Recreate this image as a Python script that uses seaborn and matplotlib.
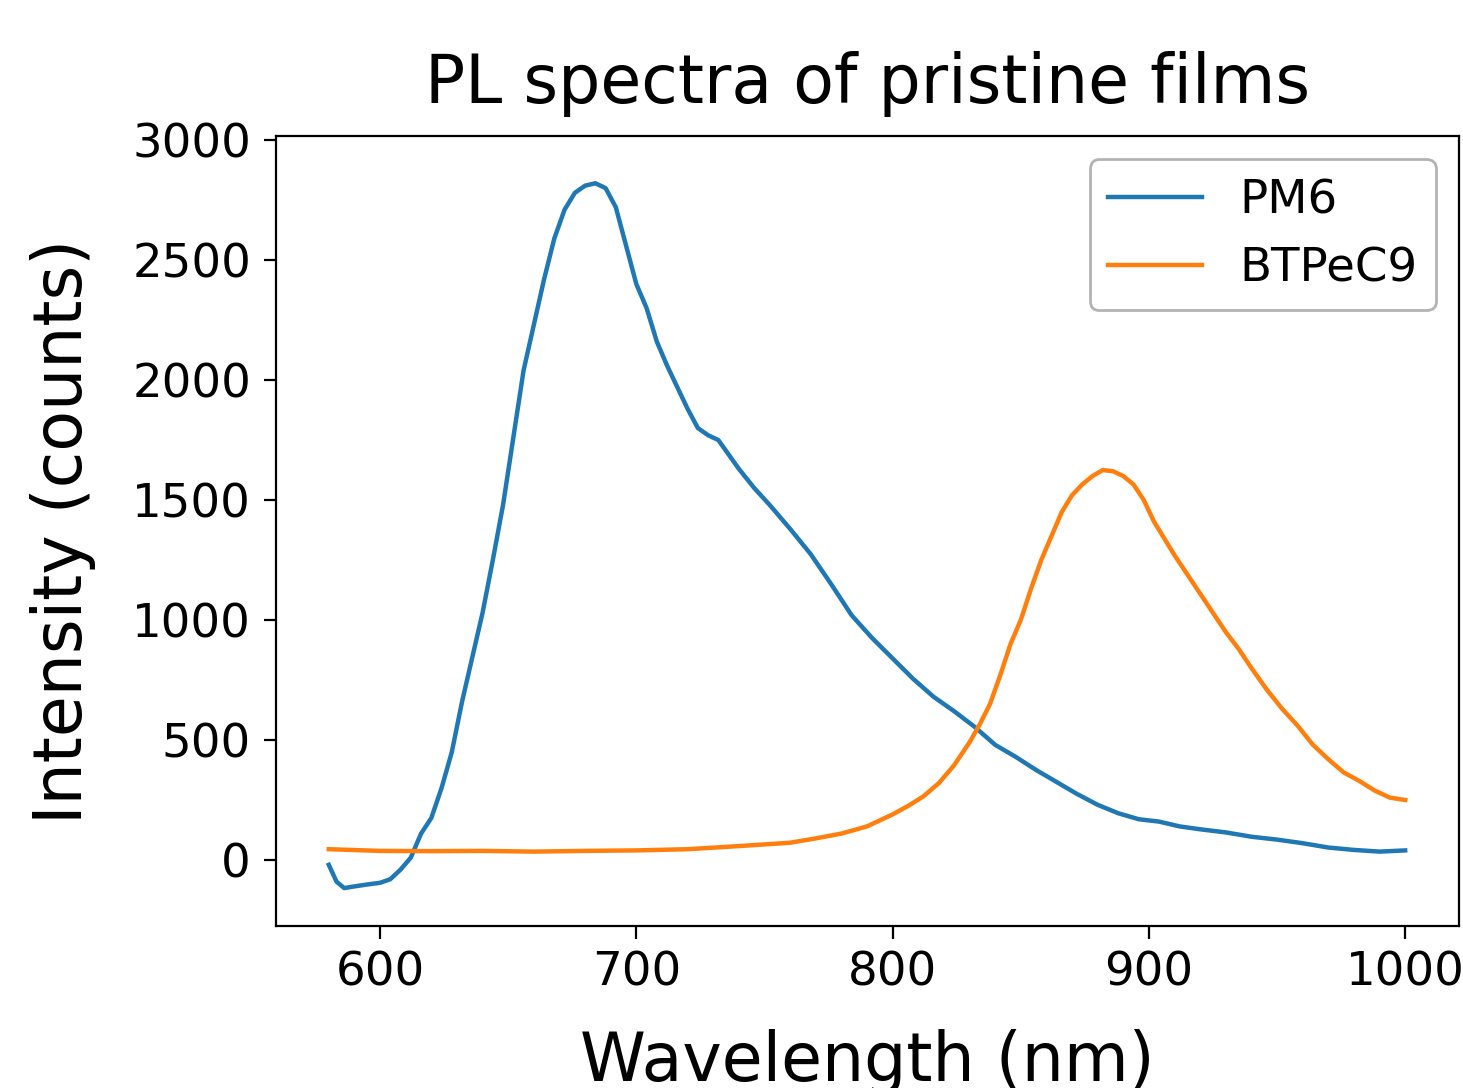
import matplotlib
matplotlib.use("Agg")
import matplotlib.pyplot as plt
import seaborn as sns
import pandas as pd

# PL spectra (wavelength in nm, intensity in counts)
pm6_nm = [580, 583, 586, 590, 595, 600, 604, 608, 612, 616, 620, 624, 628, 632,
          636, 640, 644, 648, 652, 656, 660, 664, 668, 672, 676, 680, 684, 688,
          692, 696, 700, 704, 708, 712, 716, 720, 724, 728, 732, 736, 740, 746,
          752, 760, 768, 776, 784, 792, 800, 808, 816, 824, 832, 840, 848, 856,
          864, 872, 880, 888, 896, 904, 912, 920, 930, 940, 950, 960, 970, 980,
          990, 1000]
pm6_counts = [-20, -90, -117, -110, -102, -95, -80, -40, 10, 110, 175, 300, 450, 660,
              845, 1030, 1250, 1480, 1760, 2040, 2230, 2420, 2590, 2710, 2780, 2810, 2820, 2800,
              2720, 2560, 2400, 2300, 2160, 2060, 1970, 1880, 1800, 1770, 1750, 1690, 1630, 1550,
              1480, 1380, 1275, 1150, 1020, 925, 840, 755, 680, 620, 555, 480, 430, 375,
              325, 275, 230, 195, 170, 160, 140, 128, 115, 97, 85, 70, 52, 42,
              35, 40]

btp_nm = [580, 600, 620, 640, 660, 680, 700, 720, 740, 760, 770, 780, 790, 800,
          806, 812, 818, 824, 830, 834, 838, 842, 846, 850, 854, 858, 862, 866,
          870, 874, 878, 882, 886, 890, 894, 898, 902, 906, 910, 915, 920, 925,
          930, 935, 940, 946, 952, 958, 964, 970, 976, 982, 988, 994, 1000]
btp_counts = [45, 38, 37, 38, 35, 38, 40, 45, 58, 72, 90, 110, 140, 190,
              225, 265, 320, 395, 490, 565, 650, 770, 900, 1000, 1130, 1250, 1350, 1450,
              1520, 1565, 1600, 1625, 1620, 1600, 1565, 1500, 1410, 1340, 1270, 1190, 1110, 1030,
              950, 880, 800, 710, 630, 560, 480, 420, 365, 330, 290, 260, 250]

labels = ["PM6", "BTPeC9"]

df = pd.concat([
    pd.DataFrame({"wl": pm6_nm, "counts": pm6_counts, "sample": labels[0]}),
    pd.DataFrame({"wl": btp_nm, "counts": btp_counts, "sample": labels[1]}),
])

fig = plt.figure(figsize=(1463 / 200, 1088 / 200), dpi=200)
ax = fig.add_axes([276 / 1463, 1 - 926 / 1088, (1459 - 276) / 1463, (926 - 136) / 1088])

sns.lineplot(data=df, x="wl", y="counts", hue="sample", hue_order=labels,
             palette=["#1f77b4", "#ff7f0e"], linewidth=1.6, ax=ax, sort=False)

ax.set_xlim(559.4, 1021)
ax.set_ylim(-275, 3017)
ax.set_title("PL spectra of pristine films", fontsize=24, pad=12)
ax.set_xlabel("Wavelength (nm)", fontsize=24, labelpad=12)
ax.set_ylabel("Intensity (counts)", fontsize=24, labelpad=13)
ax.set_xticks([600, 700, 800, 900, 1000])
ax.set_yticks([0, 500, 1000, 1500, 2000, 2500, 3000])
ax.tick_params(labelsize=16.8, length=4.5, pad=4.5)

handles, lbls = ax.get_legend_handles_labels()
leg = ax.legend(handles, lbls, loc="upper right", fontsize=16.8)
leg.get_frame().set_edgecolor("#a0a0a0")

fig.savefig("out.png", dpi=200)
